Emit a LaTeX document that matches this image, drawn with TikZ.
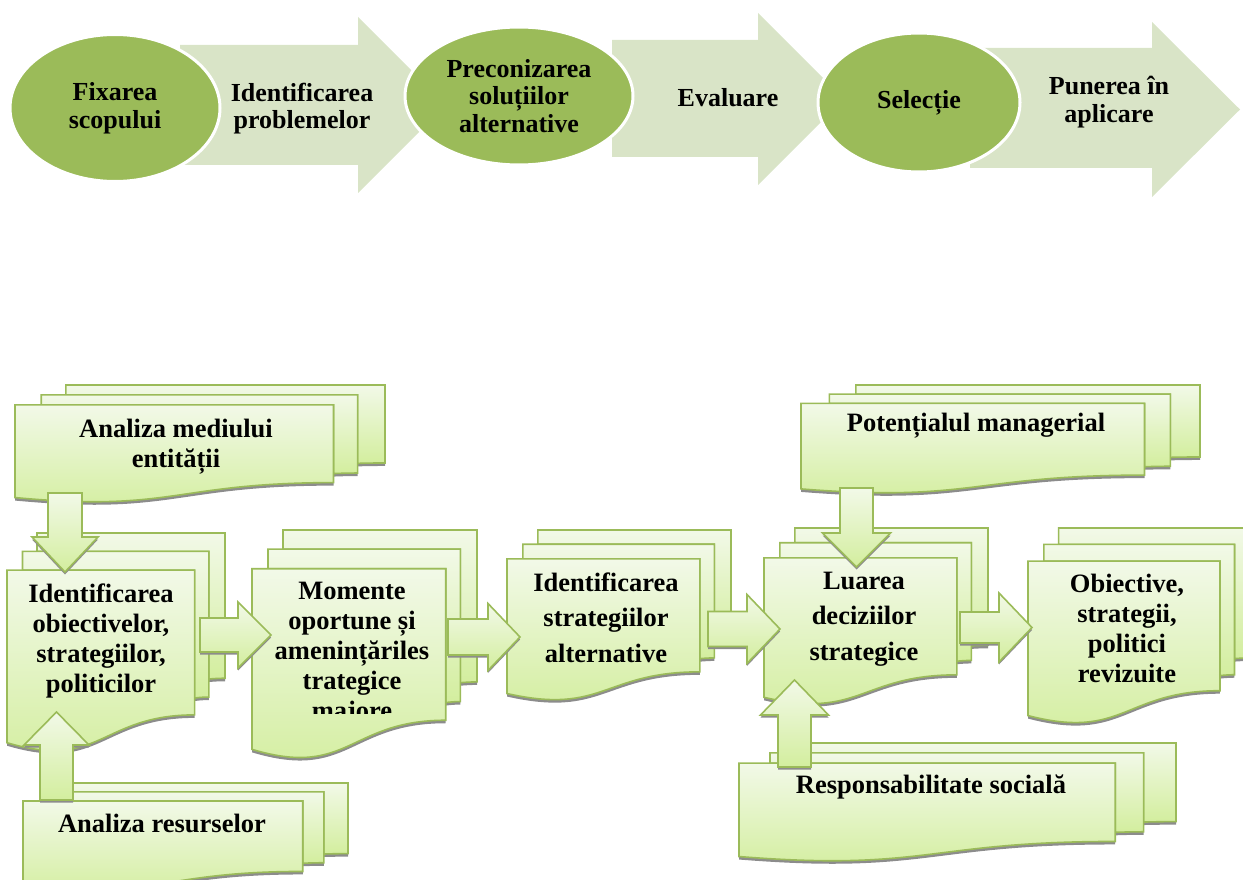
\documentclass[tikz,border=0pt]{standalone}
\usepackage{fontspec}
\setmainfont{Liberation Serif}
\usetikzlibrary{shapes.geometric}
\definecolor{ogreen}{HTML}{9BBB59}
\definecolor{arrowfill}{HTML}{D9E4C7}
\definecolor{doctop}{HTML}{F2F9E8}
\definecolor{docbot}{HTML}{D3EE9E}
\definecolor{shadowgray}{HTML}{8C8C8C}
\tikzset{
  page/.style={draw=ogreen, line width=1.6pt, top color=doctop, bottom color=docbot},
  shade page/.style={fill=shadowgray},
  barrow/.style={draw=ogreen, line width=1.6pt, top color=doctop, bottom color=docbot},
  toparrow/.style={fill=arrowfill},
  bubble/.style={ellipse, fill=ogreen, draw=white, line width=3pt, inner sep=0pt, align=center,
    font=\bfseries\fontsize{26}{27.5}\selectfont},
  toplbl/.style={align=center, inner sep=0pt, font=\bfseries\fontsize{26}{27.5}\selectfont},
  lbl/.style={align=center, inner sep=0pt, font=\bfseries\fontsize{26.5}{30}\selectfont},
  lblwide/.style={align=center, inner sep=0pt, font=\bfseries\fontsize{26.5}{35.5}\selectfont},
  mdoc/.pic={
    \path[page] (0.1376,0.0840) -- (0.1376,0) -- (1,0) -- (1,0.6663)
      .. controls (0.9630,0.6663) and (0.9259,0.6698) .. (0.9259,0.6698) -- (0.9259,0.0840) -- cycle;
    \path[page] (0.0709,0.1701) -- (0.0709,0.0840) -- (0.9259,0.0840) -- (0.9259,0.7524)
      .. controls (0.8934,0.7524) and (0.8609,0.7570) .. (0.8609,0.7570) -- (0.8609,0.1701) -- cycle;
    \path[page] (0,0.9621) .. controls (0.4305,1.0899) and (0.4305,0.8344) .. (0.8609,0.8344)
      -- (0.8609,0.1701) -- (0,0.1701) -- cycle;
  },
  mdocshadow/.pic={
    \path[shade page] (0.1376,0.0840) -- (0.1376,0) -- (1,0) -- (1,0.6663)
      .. controls (0.9630,0.6663) and (0.9259,0.6698) .. (0.9259,0.6698) -- (0.9259,0.0840) -- cycle;
    \path[shade page] (0.0709,0.1701) -- (0.0709,0.0840) -- (0.9259,0.0840) -- (0.9259,0.7524)
      .. controls (0.8934,0.7524) and (0.8609,0.7570) .. (0.8609,0.7570) -- (0.8609,0.1701) -- cycle;
    \path[shade page] (0,0.9621) .. controls (0.4305,1.0899) and (0.4305,0.8344) .. (0.8609,0.8344)
      -- (0.8609,0.1701) -- (0,0.1701) -- cycle;
  }
}
% multidocument: x, y, w, h
\newcommand\mdocat[4]{%
  \pic[xscale=#3,yscale=#4] at ({#1},{#2+3}) {mdocshadow};
  \pic[xscale=#3,yscale=#4] at ({#1},{#2}) {mdoc};}
% horizontal block arrow: yc, xtail, xhead, xtip, body half, head half
\newcommand\hblock[6]{%
  \path[shade page, yshift=-2.5pt] ({#2},{#1-#5}) -- ({#3},{#1-#5}) -- ({#3},{#1-#6}) -- ({#4},{#1})
     -- ({#3},{#1+#6}) -- ({#3},{#1+#5}) -- ({#2},{#1+#5}) -- cycle;
  \path[barrow] ({#2},{#1-#5}) -- ({#3},{#1-#5}) -- ({#3},{#1-#6}) -- ({#4},{#1})
     -- ({#3},{#1+#6}) -- ({#3},{#1+#5}) -- ({#2},{#1+#5}) -- cycle;}
% vertical block arrow: xc, ytail, yhead, ytip, body half, head half
\newcommand\vblock[6]{%
  \path[shade page, yshift=-2.5pt] ({#1-#5},{#2}) -- ({#1-#5},{#3}) -- ({#1-#6},{#3}) -- ({#1},{#4})
     -- ({#1+#6},{#3}) -- ({#1+#5},{#3}) -- ({#1+#5},{#2}) -- cycle;
  \path[barrow] ({#1-#5},{#2}) -- ({#1-#5},{#3}) -- ({#1-#6},{#3}) -- ({#1},{#4})
     -- ({#1+#6},{#3}) -- ({#1+#5},{#3}) -- ({#1+#5},{#2}) -- cycle;}
\begin{document}
\begin{tikzpicture}[x=1pt,y=-1pt]
\useasboundingbox (0,0) rectangle (1243,880);
\clip (0,0) rectangle (1243,880);

% ---------- top row ----------
\path[toparrow] (180,45) -- (358,45) -- (358,17) -- (446,105) -- (358,193) -- (358,165) -- (180,165) -- cycle;
\path[toparrow] (612,40) -- (758,40) -- (758,13) -- (844,99) -- (758,185) -- (758,157) -- (612,157) -- cycle;
\path[toparrow] (970,48) -- (1152,48) -- (1152,22) -- (1240,109.5) -- (1152,197) -- (1152,168) -- (970,168) -- cycle;

\node[bubble, minimum width=210pt, minimum height=147pt] (fix) at (115,108) {Fixarea\\scopului};
\node[bubble, minimum width=228pt, minimum height=138pt] (prec) at (519,96) {Preconizarea\\soluțiilor\\alternative};
\node[bubble, minimum width=202pt, minimum height=139pt] (sel) at (919,102.5) {Selecție};

\node[toplbl] (idp) at (302,108.5) {Identificarea\\problemelor};
\node[toplbl] (eval) at (728,98) {Evaluare};
\node[toplbl] (pun) at (1109,102) {Punerea în\\aplicare};

% ---------- bottom diagram ----------
\mdocat{15}{385}{370}{117}
\mdocat{7}{533}{218}{218}
\mdocat{23}{783}{325}{106}
\mdocat{252}{530}{225}{228}
\mdocat{507}{530}{224}{170}
\mdocat{764}{528}{224}{176}
\mdocat{1028}{528}{223}{195}
\mdocat{801}{385}{399}{108}
\mdocat{739}{743}{437}{118}

\node[lbl] (mediu) at (176,447) {Analiza mediului\\entității};
\node[lbl] (obj) at (101,641) {Identificarea\\obiectivelor,\\strategiilor,\\politicilor};
\node[lbl] (res) at (162,823) {Analiza resurselor};
\begin{scope}
  \clip (250,560) rectangle (447,713);
  \node[lbl] (mom) at (352,654) {Momente\\oportune și\\amenințăriles\\trategice\\majore};
\end{scope}
\node[lblwide] (strat) at (606,617.5) {Identificarea\\strategiilor\\alternative};
\node[lblwide] (luarea) at (864,619) {Luarea\\deciziilor\\strategice};
\node[lbl] (rev) at (1127,628) {Obiective,\\strategii,\\politici\\revizuite};
\node[lbl] (pot) at (976,426) {Potențialul managerial};
\node[lbl] (soc) at (931,787) {Responsabilitate socială};

% block arrows
\vblock{65}{493}{537}{572}{17}{33}
\vblock{56.5}{800}{745}{712}{16.5}{32.5}
\hblock{635}{200}{238}{271}{17}{33}
\hblock{637}{448}{488}{520}{18}{33.5}
\hblock{629}{708}{747}{780}{17.5}{34.5}
\hblock{627.5}{960}{999}{1032}{15.5}{34.5}
\vblock{856.5}{488}{533}{567}{16.5}{34}
\vblock{794.5}{767}{715}{680}{16.5}{34}
\end{tikzpicture}
\end{document}
